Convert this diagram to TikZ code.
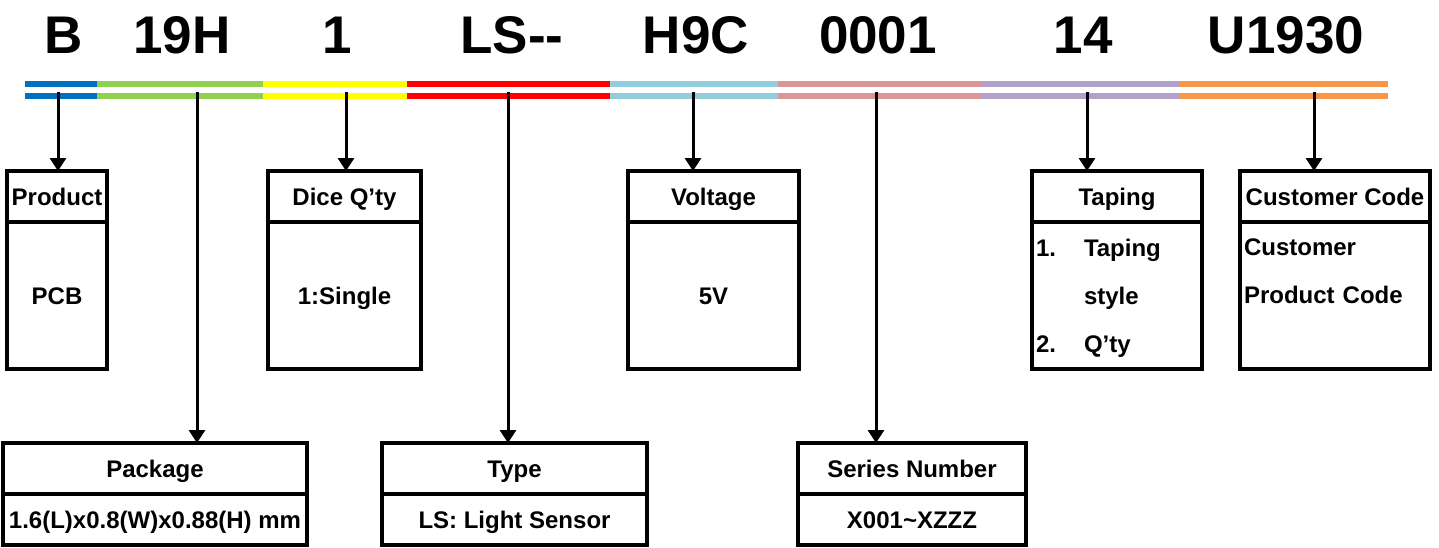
\documentclass[tikz,border=0pt]{standalone}
\usepackage{fontspec}
\setmainfont{Liberation Sans}
\usetikzlibrary{arrows.meta}

\definecolor{segblue}{HTML}{0070C0}
\definecolor{seggreen}{HTML}{92D050}
\definecolor{segyellow}{HTML}{FFFF00}
\definecolor{segred}{HTML}{FF0000}
\definecolor{segcyan}{HTML}{92CDDC}
\definecolor{segpink}{HTML}{DA9694}
\definecolor{segviolet}{HTML}{B1A0C7}
\definecolor{segorange}{HTML}{F79646}

\tikzset{
  code/.style={font=\fontsize{26.5}{28}\selectfont\bfseries, anchor=base, inner sep=0pt},
  boxed/.style={draw, line width=1.6pt, outer sep=0pt, inner sep=2pt,
    font=\fontsize{12}{24}\selectfont\bfseries},
  hdr/.style={boxed, minimum height=25.5pt, text height=8.6pt, text depth=0pt},
  body/.style={hdr, minimum height=73.5pt},
  listbody/.style={boxed, minimum height=73.5pt, align=left},
  arr/.style={line width=1.5pt, -{Triangle[width=8pt,length=6.5pt]}},
  bar/.style={line width=3pt}
}

\begin{document}
\begin{tikzpicture}[x=0.5pt, y=-0.5pt]
    \useasboundingbox (0,0) rectangle (1439,547);

    \node[code] (cB) at (64,53) {B};
    \node[code] (cPkg) at (182,53) {19H};
    \node[code] (cDice) at (337,53) {1};
    \node[code] (cType) at (512,53) {LS-{}-};
    \node[code] (cVolt) at (696,53) {H9C};
    \node[code] (cSer) at (878,53) {0001};
    \node[code] (cTap) at (1083,53) {14};
    \node[code] (cCust) at (1286,53) {U1930};

    \foreach \xa/\xb/\col in {25/97/segblue, 97/263/seggreen, 263/407/segyellow,
        407/610/segred, 610/778/segcyan, 778/981/segpink, 981/1180/segviolet, 1180/1388/segorange}{
        \draw[bar, color=\col] (\xa,84) -- (\xb,84);
        \draw[bar, color=\col] (\xa,96) -- (\xb,96);
    }

    \node[hdr, minimum width=50pt, anchor=north west] (prodH) at (7,171) {Product};
    \node[body, minimum width=50pt, anchor=north] (prodB) at (prodH.south) {PCB};

    \node[hdr, minimum width=76.5pt, anchor=north west] (diceH) at (268,171) {Dice Q'ty};
    \node[body, minimum width=76.5pt, anchor=north] (diceB) at (diceH.south) {1:Single};

    \node[hdr, minimum width=85.5pt, anchor=north west] (voltH) at (628,171) {Voltage};
    \node[body, minimum width=85.5pt, anchor=north] (voltB) at (voltH.south) {5V};

    \node[hdr, minimum width=85pt, anchor=north west] (tapH) at (1032,171) {Taping};
    \node[listbody, minimum width=85pt, text width=81pt, anchor=north] (tapB) at (tapH.south)
        {\makebox[24pt][l]{1.}Taping\\\hspace*{24pt}style\\\makebox[24pt][l]{2.}\smash{Q'ty}};

    \node[hdr, minimum width=95pt, anchor=north west] (custH) at (1240,171) {Customer Code};
    \node[listbody, minimum width=95pt, text width=91pt, anchor=north] (custB) at (custH.south)
        {Customer\\Product Code\\\mbox{}};

    \node[hdr, minimum width=152pt, anchor=north west] (pkgH) at (3,443) {Package};
    \node[hdr, minimum width=152pt, anchor=north] (pkgB) at (pkgH.south) {1.6(L)x0.8(W)x0.88(H) mm};

    \node[hdr, minimum width=132.5pt, anchor=north west] (typeH) at (382,443) {Type};
    \node[hdr, minimum width=132.5pt, anchor=north] (typeB) at (typeH.south) {LS: Light Sensor};

    \node[hdr, minimum width=114pt, anchor=north west] (serH) at (798,443) {Series Number};
    \node[hdr, minimum width=114pt, anchor=north] (serB) at (serH.south) {X001\textasciitilde XZZZ};

    \coordinate (tB) at (58,92);
    \coordinate (tPkg) at (197,92);
    \coordinate (tDice) at (346,92);
    \coordinate (tType) at (508,92);
    \coordinate (tVolt) at (693,92);
    \coordinate (tSer) at (876,92);
    \coordinate (tTap) at (1087,92);
    \coordinate (tCust) at (1314,92);

    \draw[arr] (tB) -- (tB |- prodH.north);
    \draw[arr] (tPkg) -- (tPkg |- pkgH.north);
    \draw[arr] (tDice) -- (tDice |- diceH.north);
    \draw[arr] (tType) -- (tType |- typeH.north);
    \draw[arr] (tVolt) -- (tVolt |- voltH.north);
    \draw[arr] (tSer) -- (tSer |- serH.north);
    \draw[arr] (tTap) -- (tTap |- tapH.north);
    \draw[arr] (tCust) -- (tCust |- custH.north);
\end{tikzpicture}
\end{document}
